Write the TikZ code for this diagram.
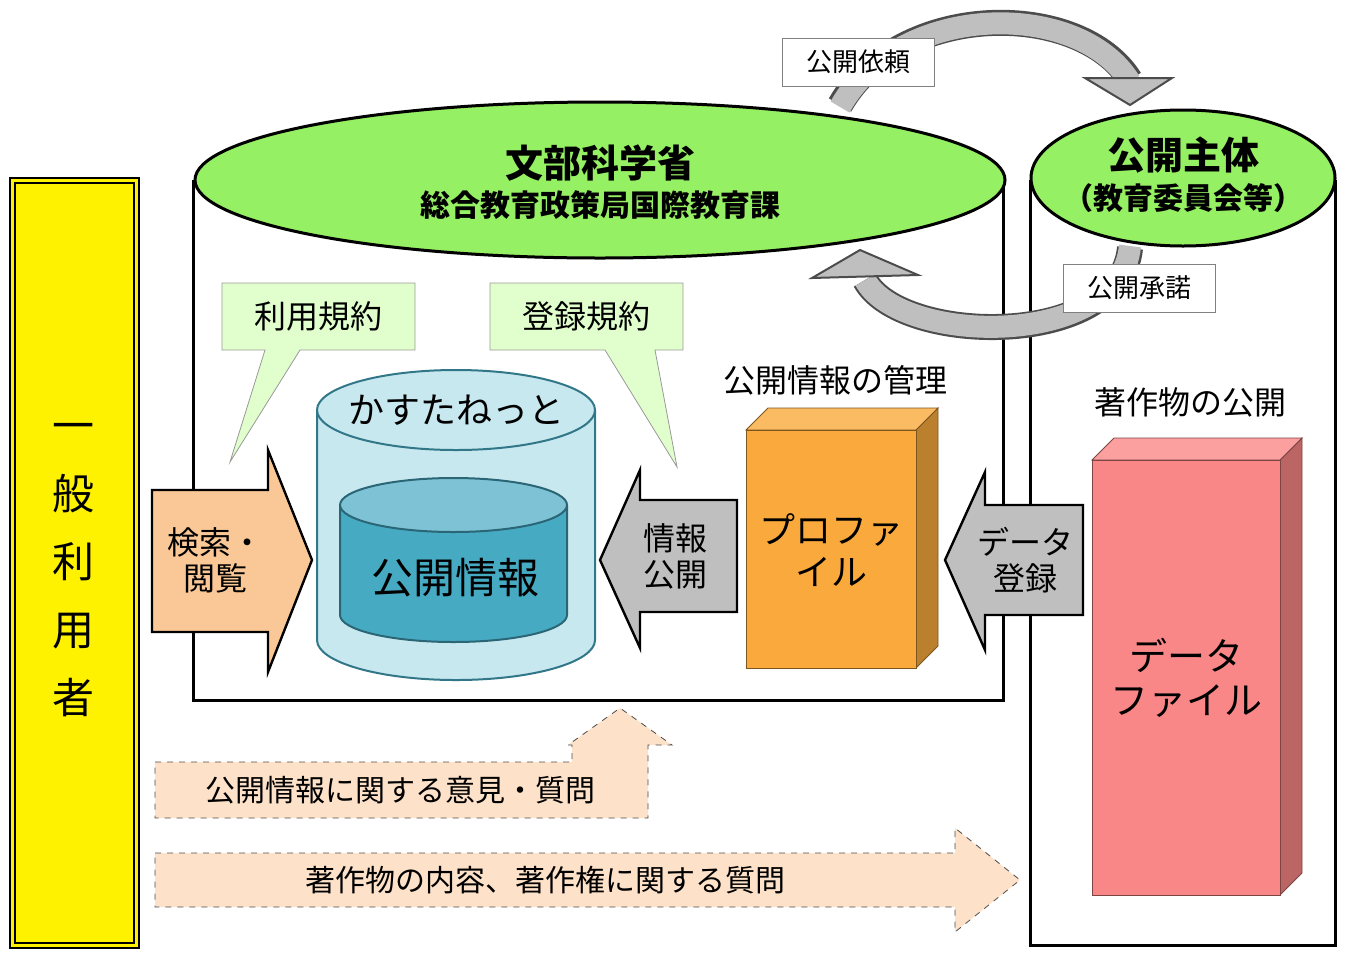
\documentclass[tikz,border=0pt]{standalone}
\usepackage{fontspec}
\setmainfont{Noto Sans CJK JP}
\usetikzlibrary{calc}
\definecolor{ellgreen}{RGB}{150,240,100}
\definecolor{callgreen}{RGB}{225,255,205}
\definecolor{cylblue}{RGB}{200,232,240}
\definecolor{cylteal}{RGB}{70,170,195}
\definecolor{arrorange}{RGB}{250,200,150}
\definecolor{boxorange}{RGB}{250,170,60}
\definecolor{boxred}{RGB}{250,135,135}
\definecolor{peach}{RGB}{253,225,200}
\tikzset{
  lbl/.style={font=\fontsize{16}{18}\selectfont, align=center},
  tag/.style={draw=gray, fill=white, font=\fontsize{13}{15}\selectfont, minimum width=76pt, minimum height=24pt, inner sep=0pt},
  blockarrow/.style={draw=black, line width=1.2pt},
  dasharrow/.style={draw=black!70, dashed, fill=peach},
  curvedarr/.style={line width=13pt, draw=black!70},
  curvedin/.style={line width=11pt, draw=black!25}
}
\begin{document}
\begin{tikzpicture}[x=0.5pt,y=-0.5pt]
\useasboundingbox (0,0) rectangle (1352,964);
% user box
\draw[fill=yellow, line width=1pt] (10,178) rectangle (139,948);
\draw[line width=0.6pt] (15,183) rectangle (134,943);
\node[font=\fontsize{21}{34}\selectfont, align=center] (user) at (73,570) {一\\般\\利\\用\\者};
% ministry box
\draw[line width=1.5pt] (193,180) -- (193,700) -- (1003,700) -- (1003,180);
\draw[fill=ellgreen, line width=1.5pt] (600,180) ellipse (405 and 78);
\node[font=\bfseries\fontsize{19}{21}\selectfont] (mext) at (600,163) {文部科学省};
\node[font=\bfseries\fontsize{15}{17}\selectfont] (mextsub) at (600,205) {総合教育政策局国際教育課};
% publisher box
\draw[line width=1.5pt] (1030,180) -- (1030,945) -- (1335,945) -- (1335,180);
\draw[fill=ellgreen, line width=1.5pt] (1183,178) ellipse (152 and 68);
\node[font=\bfseries\fontsize{19}{21}\selectfont] (pub) at (1183,155) {公開主体};
\node[font=\bfseries\fontsize{15}{17}\selectfont] (pubsub) at (1183,198) {（教育委員会等）};
% curved arrows
\draw[curvedarr] (840,105) .. controls (900,0) and (1080,0) .. (1130,80);
\draw[curvedin] (840,107) .. controls (900,0) and (1080,0) .. (1130,82);
\draw[fill=black!25, draw=black!70, line width=1pt] (1085,78) -- (1172,78) -- (1130,105) -- cycle;
\draw[curvedarr] (1130,248) .. controls (1120,350) and (900,345) .. (865,280);
\draw[curvedin] (1130,246) .. controls (1120,350) and (900,345) .. (865,280);
\draw[fill=black!25, draw=black!70, line width=1pt] (812,278) -- (860,250) -- (918,275) -- cycle;
\node[tag] (req) at (858,62) {公開依頼};
\node[tag] (ack) at (1139,288) {公開承諾};
% callouts
\draw[draw=black!40, fill=callgreen] (222,283) -- (415,283) -- (415,350) -- (300,350) -- (230,462) -- (265,350) -- (222,350) -- cycle;
\node[lbl] (terms) at (318,316) {利用規約};
\draw[draw=black!40, fill=callgreen] (490,283) -- (683,283) -- (683,350) -- (655,350) -- (677,467) -- (605,350) -- (490,350) -- cycle;
\node[lbl] (reg) at (586,316) {登録規約};
% database cylinder
\draw[fill=cylblue, draw=cylteal!70!black, line width=1pt] (317,410) -- (317,640) arc (180:0:139 and 40) -- (595,410);
\draw[fill=cylblue, draw=cylteal!70!black, line width=1pt] (456,410) ellipse (139 and 40);
\node[font=\fontsize{18}{20}\selectfont] (kasu) at (456,410) {かすたねっと};
\draw[fill=cylteal, draw=cylteal!60!black, line width=1pt] (340,505) -- (340,615) arc (180:0:113.5 and 27) -- (567,505);
\draw[fill=cylteal!70, draw=cylteal!60!black, line width=1pt] (453.5,505) ellipse (113.5 and 27);
\node[font=\fontsize{21}{23}\selectfont] (info) at (455,578) {公開情報};
% block arrows
\draw[blockarrow, fill=arrorange] (152,490) -- (268,490) -- (268,450) -- (312,560) -- (268,672) -- (268,632) -- (152,632) -- cycle;
\node[lbl] (search) at (215,560) {検索・\\閲覧};
\draw[blockarrow, fill=black!25] (737,500) -- (640,500) -- (640,470) -- (600,560) -- (640,648) -- (640,612) -- (737,612) -- cycle;
\node[lbl] (pubinfo) at (675,556) {情報\\公開};
\draw[blockarrow, fill=black!25] (1083,505) -- (985,505) -- (985,472) -- (945,560) -- (985,650) -- (985,615) -- (1083,615) -- cycle;
\node[lbl] (dreg) at (1025,560) {データ\\登録};
% profile box
\node[lbl] (mgmt) at (835,380) {公開情報の管理};
\draw[fill=boxorange!75!black, draw=boxorange!50!black] (916,430) -- (938,408) -- (938,646) -- (916,668) -- cycle;
\draw[fill=boxorange!80!white, draw=boxorange!50!black] (746,430) -- (768,408) -- (938,408) -- (916,430) -- cycle;
\draw[fill=boxorange, draw=boxorange!50!black] (746,430) rectangle (916,668);
\node[font=\fontsize{18}{21}\selectfont, align=center] (prof) at (831,550) {プロファ\\イル};
% data file box
\node[lbl] (works) at (1190,402) {著作物の公開};
\draw[fill=boxred!75!black, draw=boxred!50!black] (1280,460) -- (1302,438) -- (1302,873) -- (1280,895) -- cycle;
\draw[fill=boxred!80!white, draw=boxred!50!black] (1092,460) -- (1114,438) -- (1302,438) -- (1280,460) -- cycle;
\draw[fill=boxred, draw=boxred!50!black] (1092,460) rectangle (1280,895);
\node[font=\fontsize{19}{22}\selectfont, align=center] (dfile) at (1186,678) {データ\\ファイル};
% dashed arrows
\draw[dasharrow] (155,762) -- (572,762) -- (572,745) -- (568,745) -- (620,708) -- (672,745) -- (648,745) -- (648,818) -- (155,818) -- cycle;
\node[font=\fontsize{15}{17}\selectfont] (q1) at (400,790) {公開情報に関する意見・質問};
\draw[dasharrow] (155,853) -- (955,853) -- (955,828) -- (1020,880) -- (955,932) -- (955,907) -- (155,907) -- cycle;
\node[font=\fontsize{15}{17}\selectfont] (q2) at (545,880) {著作物の内容、著作権に関する質問};
\end{tikzpicture}
\end{document}
